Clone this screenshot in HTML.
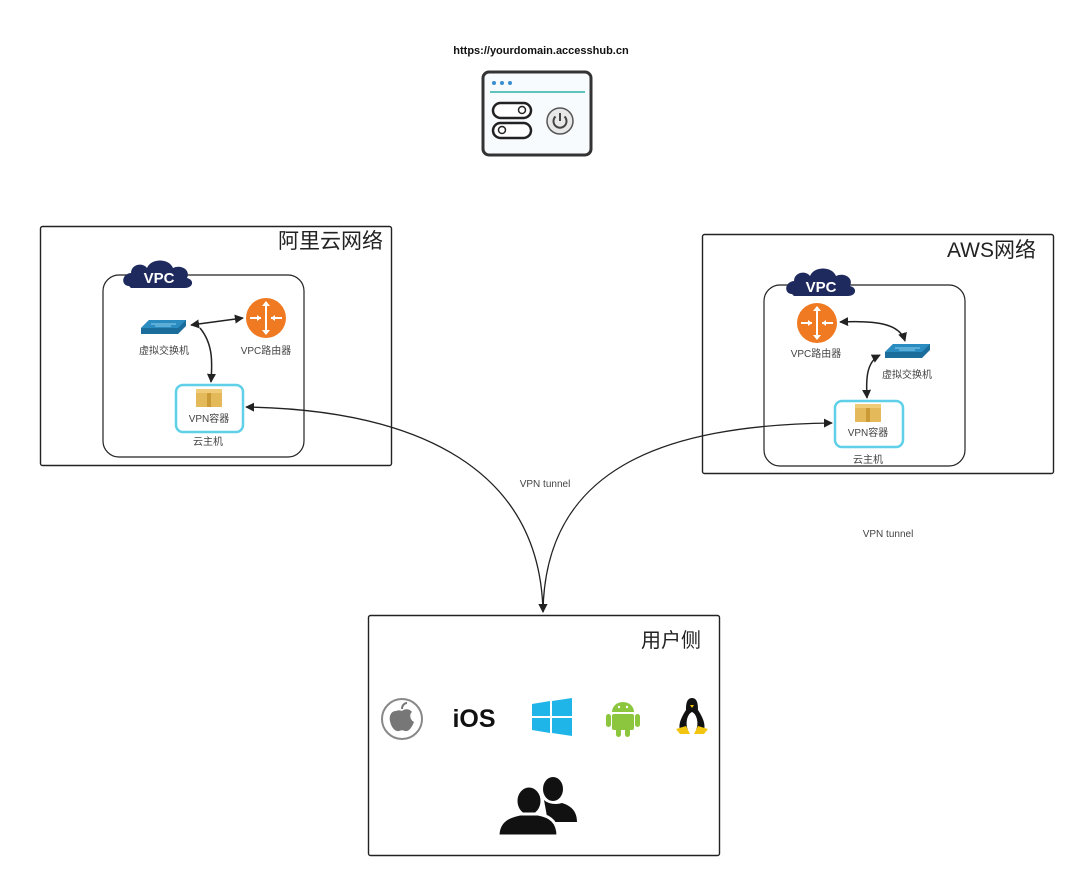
<!DOCTYPE html>
<html><head><meta charset="utf-8"><style>
html,body{margin:0;padding:0;background:#fff;}
svg{display:block;}
text{font-family:"Liberation Sans","Noto Sans CJK SC",sans-serif;}
</style></head><body>
<svg width="1080" height="882" viewBox="0 0 1080 882" xmlns="http://www.w3.org/2000/svg">
<defs>
<marker id="ah" viewBox="0 0 10 10" refX="9" refY="5" markerWidth="9" markerHeight="9" orient="auto-start-reverse" markerUnits="userSpaceOnUse">
<path d="M0,0 L10,5 L0,10 Z" fill="#222"/></marker>
<g id="switch">
<path d="M0,8 L8,0 L45,0 L45,6 L37,14 L0,14 Z" fill="#1b6e9c"/>
<path d="M0,8 L8,0 L45,0 L37,8 Z" fill="#2a8cc0"/>
<path d="M10,4 L35,4 M14,6 L30,6" stroke="#8fd0ee" stroke-width="1"/>
</g>
<g id="router">
<circle cx="0" cy="0" r="20" fill="#f07a22"/>
<path d="M0,-16 V16 M-16,0 H-5 M16,0 H5" stroke="#fff" stroke-width="2"/>
<path d="M-4,-12 L0,-17 L4,-12 Z M-4,12 L0,17 L4,12 Z M-9,-3 L-5,0 L-9,3 Z M9,-3 L5,0 L9,3 Z" fill="#fff"/>
</g>
<g id="cloud">
<path d="M4,28 C-4,28 -4,16 6,15 C6,6 18,4 22,10 C26,0 44,0 48,10 C56,6 66,12 62,20 C70,22 68,30 60,30 L6,30 Z" fill="#1e2a5e"/>
</g>
<g id="box">
<rect x="-13" y="-9" width="26" height="18" fill="#e4b95a"/>
<rect x="-2" y="-9" width="4" height="18" fill="#c99a35"/>
<rect x="-13" y="-9" width="26" height="4" fill="#f0cc78"/>
</g>
</defs>

<!-- top -->
<text x="541" y="54" font-size="11" font-weight="bold" text-anchor="middle" fill="#111">https://yourdomain.accesshub.cn</text>
<rect x="483" y="72" width="108" height="83" rx="6" fill="#f7fbfd" stroke="#333" stroke-width="3"/>
<circle cx="494" cy="83" r="2" fill="#3a8ed0"/><circle cx="502" cy="83" r="2" fill="#3a8ed0"/><circle cx="510" cy="83" r="2" fill="#3a8ed0"/>
<line x1="490" y1="92" x2="585" y2="92" stroke="#2bb0a8" stroke-width="1.5"/>
<rect x="493" y="103" width="38" height="15" rx="7.5" fill="#fff" stroke="#222" stroke-width="2.5"/>
<circle cx="522" cy="110" r="3.5" fill="#fff" stroke="#222" stroke-width="1.5"/>
<rect x="493" y="123" width="38" height="15" rx="7.5" fill="#fff" stroke="#222" stroke-width="2.5"/>
<circle cx="502" cy="130" r="3.5" fill="#fff" stroke="#222" stroke-width="1.5"/>
<circle cx="560" cy="121" r="13" fill="#e8e8e8" stroke="#555" stroke-width="1.5"/>
<path d="M555.5,116.5 A6.5,6.5 0 1 0 564.5,116.5" fill="none" stroke="#444" stroke-width="2"/>
<line x1="560" y1="113" x2="560" y2="121" stroke="#444" stroke-width="2"/>

<!-- Aliyun -->
<rect x="40.5" y="226.5" width="351" height="239" rx="2" fill="#fff" stroke="#222" stroke-width="1.4"/>
<text x="383" y="248" font-size="21" text-anchor="end" fill="#222">阿里云网络</text>
<rect x="103" y="275" width="201" height="182" rx="16" fill="none" stroke="#222" stroke-width="1.2"/>
<use href="#cloud" x="125" y="258"/>
<text x="159" y="283" font-size="15" font-weight="bold" fill="#fff" text-anchor="middle">VPC</text>
<use href="#switch" x="141" y="320"/>
<text x="164" y="354" font-size="10" fill="#444" text-anchor="middle">虚拟交换机</text>
<use href="#router" x="266" y="318"/>
<text x="266" y="354" font-size="10" fill="#444" text-anchor="middle">VPC路由器</text>
<rect x="176" y="385" width="67" height="47" rx="7" fill="#fff" stroke="#5fd0e8" stroke-width="2.5"/>
<use href="#box" x="209" y="398"/>
<text x="209" y="422" font-size="10" fill="#444" text-anchor="middle">VPN容器</text>
<text x="208" y="445" font-size="10" fill="#444" text-anchor="middle">云主机</text>
<path d="M191,325 L243,318" stroke="#222" stroke-width="1.5" fill="none" marker-start="url(#ah)" marker-end="url(#ah)"/>
<path d="M200,328 C214,345 212,365 211,382" stroke="#222" stroke-width="1.5" fill="none" marker-end="url(#ah)"/>

<!-- AWS -->
<rect x="702.5" y="234.5" width="351" height="239" rx="2" fill="#fff" stroke="#222" stroke-width="1.4"/>
<text x="1036" y="257" font-size="21" text-anchor="end" fill="#222">AWS网络</text>
<rect x="764" y="285" width="201" height="181" rx="16" fill="none" stroke="#222" stroke-width="1.2"/>
<use href="#cloud" x="788" y="266"/>
<text x="821" y="292" font-size="15" font-weight="bold" fill="#fff" text-anchor="middle">VPC</text>
<use href="#router" x="817" y="323"/>
<text x="816" y="357" font-size="10" fill="#444" text-anchor="middle">VPC路由器</text>
<use href="#switch" x="885" y="344"/>
<text x="907" y="378" font-size="10" fill="#444" text-anchor="middle">虚拟交换机</text>
<rect x="835" y="401" width="68" height="46" rx="7" fill="#fff" stroke="#5fd0e8" stroke-width="2.5"/>
<use href="#box" x="868" y="413"/>
<text x="868" y="436" font-size="10" fill="#444" text-anchor="middle">VPN容器</text>
<text x="868" y="463" font-size="10" fill="#444" text-anchor="middle">云主机</text>
<path d="M840,322 C880,320 900,325 905,341" stroke="#222" stroke-width="1.5" fill="none" marker-start="url(#ah)" marker-end="url(#ah)"/>
<path d="M880,355 C866,362 866,380 867,398" stroke="#222" stroke-width="1.5" fill="none" marker-start="url(#ah)" marker-end="url(#ah)"/>

<!-- tunnels -->
<path d="M246,407 C420,410 540,470 543,612" stroke="#222" stroke-width="1.3" fill="none" marker-start="url(#ah)" marker-end="url(#ah)"/>
<path d="M832,423 C660,425 545,470 543,612" stroke="#222" stroke-width="1.3" fill="none" marker-start="url(#ah)" marker-end="url(#ah)"/>
<text x="545" y="487" font-size="10" fill="#444" text-anchor="middle">VPN tunnel</text>
<text x="888" y="537" font-size="10" fill="#444" text-anchor="middle">VPN tunnel</text>

<!-- user -->
<rect x="368.5" y="615.5" width="351" height="240" rx="2" fill="#fff" stroke="#222" stroke-width="1.4"/>
<text x="701" y="647" font-size="20" text-anchor="end" fill="#222">用户侧</text>
<circle cx="402" cy="719" r="20" fill="#fff" stroke="#888" stroke-width="2"/>
<path d="M396,711 C391,711 389,716 390,721 C391,727 395,732 399,731 C401,730 403,730 405,731 C409,732 412,727 414,722 C410,720 409,714 412,712 C409,708 404,709 402,711 C400,710 398,710 396,711 Z" fill="#777"/>
<path d="M402,709 C402,705 405,703 407,703" stroke="#777" stroke-width="2" fill="none"/>
<text x="474" y="727" font-size="25" font-weight="bold" fill="#111" text-anchor="middle">iOS</text>
<g fill="#1fb5e8">
<path d="M532,704 L550,701 L550,716 L532,716 Z"/><path d="M552,701 L572,698 L572,716 L552,716 Z"/>
<path d="M532,718 L550,718 L550,733 L532,730 Z"/><path d="M552,718 L572,718 L572,736 L552,733 Z"/>
</g>
<g fill="#8cc63f">
<path d="M612,712 A11,10 0 0 1 634,712 Z"/>
<rect x="612" y="714" width="22" height="16" rx="2"/>
<rect x="606" y="714" width="5" height="13" rx="2.5"/><rect x="635" y="714" width="5" height="13" rx="2.5"/>
<rect x="616" y="728" width="5" height="9" rx="2.5"/><rect x="625" y="728" width="5" height="9" rx="2.5"/>
</g>
<circle cx="619" cy="707" r="1.2" fill="#fff"/><circle cx="627" cy="707" r="1.2" fill="#fff"/>
<path d="M692,698 C686,698 686,706 686,710 C682,716 678,724 680,730 L704,730 C706,724 702,716 698,710 C698,706 698,698 692,698 Z" fill="#111"/>
<path d="M692,712 C687,714 685,724 688,730 L696,730 C699,724 697,714 692,712 Z" fill="#fff"/>
<path d="M676,729 L686,726 L690,734 L680,734 Z M708,729 L698,726 L694,734 L704,734 Z" fill="#f2c511"/>
<path d="M690,705 L694,705 L692,708 Z" fill="#f2c511"/>
<!-- back person -->
<g fill="#111">
<ellipse cx="553" cy="789" rx="10" ry="12"/>
<path d="M544,800 C548,804 556,805 562,803 C572,806 577,812 577,822 L548,822 Z"/>
</g>
<!-- front person -->
<g fill="#111" stroke="#fff" stroke-width="3">
<ellipse cx="529" cy="801" rx="13" ry="15"/>
<path d="M498,836 C498,820 510,816 520,814 L538,814 C550,816 558,822 558,836 Z"/>
</g>
</svg>
</body></html>
